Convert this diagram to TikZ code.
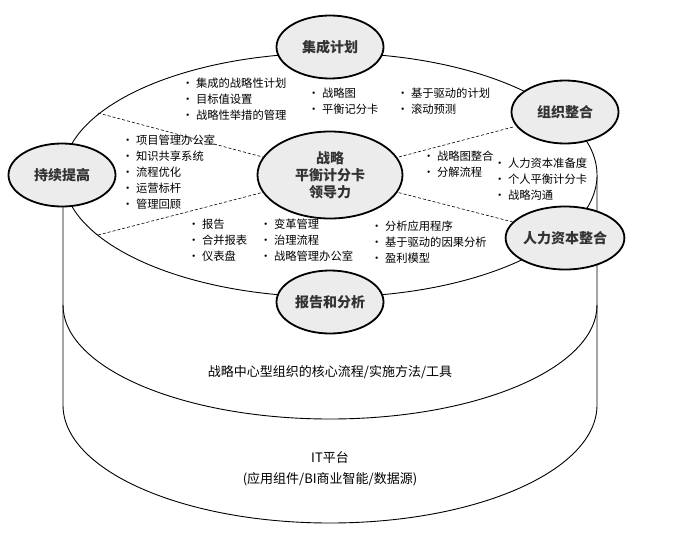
\documentclass[tikz,border=0pt]{standalone}
\usepackage{fontspec}
\setmainfont{Noto Sans CJK SC}
\usetikzlibrary{shapes.geometric}
\begin{document}
\begin{tikzpicture}[x=1pt,y=-1pt,
  hub/.style={ellipse,draw,line width=1.8pt,fill=gray!15,minimum width=107pt,minimum height=63pt,inner sep=0pt,font=\bfseries\fontsize{14}{17}\selectfont,align=center,text=black!80},
  lst/.style={anchor=north west,align=left,inner sep=0pt,font=\fontsize{11.3}{16}\selectfont},
  dl/.style={densely dashed,line width=0.6pt}]
\useasboundingbox (0,0) rectangle (693,552);
% cylinder
\draw[line width=0.9pt,fill=white] (63,175) -- (63,405) arc[start angle=180,end angle=0,x radius=267,y radius=118] -- (597,175);
\draw[line width=0.9pt] (63,305) arc[start angle=180,end angle=0,x radius=267,y radius=114];
\draw[line width=0.9pt,fill=white] (330,175) ellipse[x radius=267,y radius=122];
\node[hub,minimum width=145pt,minimum height=87pt] (c) at (330,175) {战略\\平衡计分卡\\领导力};
\coordinate (p1) at (98,113);
\coordinate (p2) at (513,127);
\coordinate (p3) at (98,235);
\coordinate (p4) at (513,222);
\draw[dl] (p1) -- (c);
\draw[dl] (p2) -- (c);
\draw[dl] (p3) -- (c);
\draw[dl] (p4) -- (c);
\node[hub] (a) at (330,47) {集成计划};
\node[hub] (b) at (565,112) {组织整合};
\node[hub] (d) at (62,175) {持续提高};
\node[hub] (e) at (565,238) {人力资本整合};
\node[hub] (f) at (330,302) {报告和分析};
\node[lst] (t1) at (182,78) {• 集成的战略性计划\\• 目标值设置\\• 战略性举措的管理};
\node[lst] (t2) at (308,88) {• 战略图\\• 平衡记分卡};
\node[lst] (t3) at (397,88) {• 基于驱动的计划\\• 滚动预测};
\node[lst] (t4) at (122,135) {• 项目管理办公室\\• 知识共享系统\\• 流程优化\\• 运营标杆\\• 管理回顾};
\node[lst] (t5) at (423,151) {• 战略图整合\\• 分解流程};
\node[lst] (t6) at (494,158) {• 人力资本准备度\\• 个人平衡计分卡\\• 战略沟通};
\node[lst] (t7) at (188,219) {• 报告\\• 合并报表\\• 仪表盘};
\node[lst] (t8) at (260,219) {• 变革管理\\• 治理流程\\• 战略管理办公室};
\node[lst] (t9) at (371,221) {• 分析应用程序\\• 基于驱动的因果分析\\• 盈利模型};
\node[font=\fontsize{13}{15}\selectfont] (m) at (330,372) {战略中心型组织的核心流程/实施方法/工具};
\node[font=\fontsize{13}{21}\selectfont,align=center] (it) at (330,469) {IT平台\\(应用组件/BI商业智能/数据源)};
\end{tikzpicture}
\end{document}
